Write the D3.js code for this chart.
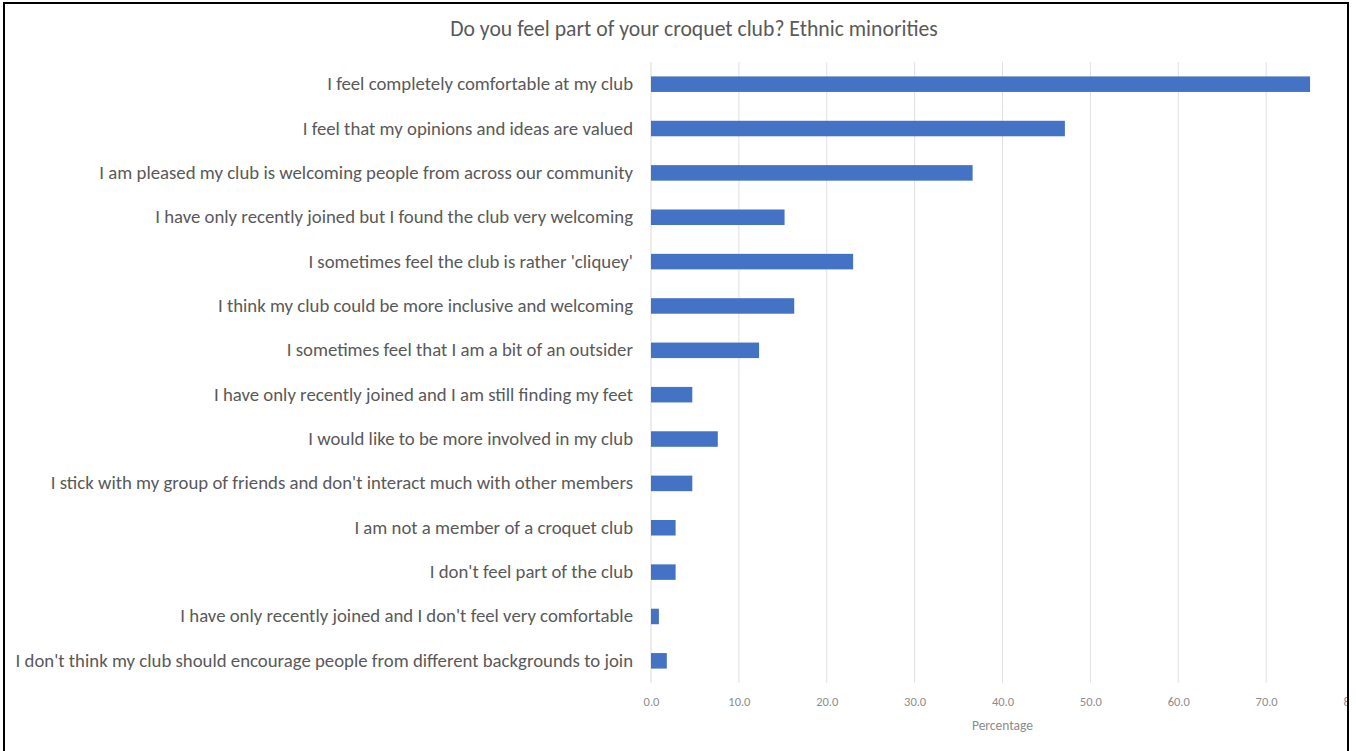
<!DOCTYPE html>
<html>
<head>
<meta charset="utf-8">
<script src="https://cdn.jsdelivr.net/npm/d3@7"></script>
<style>
  html, body { margin: 0; padding: 0; background: #fff; }
  svg { display: block; }
</style>
</head>
<body>
<svg id="chart" width="1356" height="751"></svg>
<script>
const chartTitle = "Do you feel part of your croquet club? Ethnic minorities";
const categories = [
  "I feel completely comfortable at my club",
  "I feel that my opinions and ideas are valued",
  "I am pleased my club is welcoming people from across our community",
  "I have only recently joined but I found the club very welcoming",
  "I sometimes feel the club is rather 'cliquey'",
  "I think my club could be more inclusive and welcoming",
  "I sometimes feel that I am a bit of an outsider",
  "I have only recently joined and I am still finding my feet",
  "I would like to be more involved in my club",
  "I stick with my group of friends and don't interact much with other members",
  "I am not a member of a croquet club",
  "I don't feel part of the club",
  "I have only recently joined and I don't feel very comfortable",
  "I don't think my club should encourage people from different backgrounds to join"
];
const values = [75.0, 47.1, 36.6, 15.2, 23.0, 16.3, 12.3, 4.7, 7.6, 4.7, 2.8, 2.8, 0.9, 1.8];
const xTicks = [0, 10, 20, 30, 40, 50, 60, 70, 80];
const xAxisTitle = "Percentage";

const svg = d3.select("#chart");
const font = "Calibri, Carlito, Lato, 'Open Sans', sans-serif";

const plot = { left: 651, right: 1354, top: 62, bottom: 683 };

// clip to the frame border (the reference crops the chart at its right edge)
svg.append("defs").append("clipPath").attr("id", "frameClip")
  .append("rect").attr("x", 5).attr("y", 4).attr("width", 1342).attr("height", 760);

const g = svg.append("g").attr("clip-path", "url(#frameClip)");

const x = d3.scaleLinear().domain([0, 80]).range([plot.left, plot.right]);
const y = d3.scaleBand().domain(categories).range([plot.top, plot.bottom]).paddingInner(0.65).paddingOuter(0.325);

// gridlines
g.append("g").selectAll("line").data(xTicks.filter(d => d > 0)).join("line")
  .attr("x1", d => x(d)).attr("x2", d => x(d))
  .attr("y1", plot.top).attr("y2", plot.bottom)
  .attr("stroke", "#e0e0e0").attr("stroke-width", 1);

// y axis line
g.append("line").attr("x1", x(0)).attr("x2", x(0))
  .attr("y1", plot.top).attr("y2", plot.bottom)
  .attr("stroke", "#d9d9d9").attr("stroke-width", 1);

// bars
g.append("g").selectAll("rect").data(values).join("rect")
  .attr("x", x(0))
  .attr("y", (d, i) => y(categories[i]))
  .attr("width", d => x(d) - x(0))
  .attr("height", y.bandwidth())
  .attr("fill", "#4472C4");

// x axis tick labels
const xAxis = d3.axisBottom(x).tickValues(xTicks).tickFormat(d3.format(".1f")).tickSize(0).tickPadding(0);
const xg = g.append("g").attr("transform", `translate(0, ${plot.bottom + 14})`).call(xAxis);
xg.select(".domain").remove();
xg.selectAll("text").attr("font-family", font).attr("font-size", 12.5).attr("fill", "#8c8c8c");

// x axis title
g.append("text").attr("x", (plot.left + plot.right) / 2).attr("y", 730)
  .attr("text-anchor", "middle").attr("font-family", font).attr("font-size", 13.5)
  .attr("fill", "#8c8c8c").text(xAxisTitle);

// y axis labels
const yAxis = d3.axisLeft(y).tickSize(0).tickPadding(18);
const yg = g.append("g").attr("transform", `translate(${x(0)},0)`).call(yAxis);
yg.select(".domain").remove();
yg.selectAll("text").attr("font-family", font).attr("fill", "#595959").attr("font-size", 15);

// fit label font so the longest label spans the same width as in the reference
let longest = 0;
yg.selectAll("text").each(function() { longest = Math.max(longest, this.getComputedTextLength()); });
const labelSize = 15 * 618 / longest;
yg.selectAll("text").attr("font-size", labelSize);

// title
const t = g.append("text").attr("x", 694).attr("y", 36)
  .attr("text-anchor", "middle").attr("font-family", font).attr("font-size", 18)
  .attr("fill", "#595959").text(chartTitle);
const tw = t.node().getComputedTextLength();
t.attr("font-size", 18 * 488 / tw);

// frame border
svg.append("rect").attr("x", 4).attr("y", 3).attr("width", 1344).attr("height", 760)
  .attr("fill", "none").attr("stroke", "#000").attr("stroke-width", 2);
</script>
</body>
</html>
